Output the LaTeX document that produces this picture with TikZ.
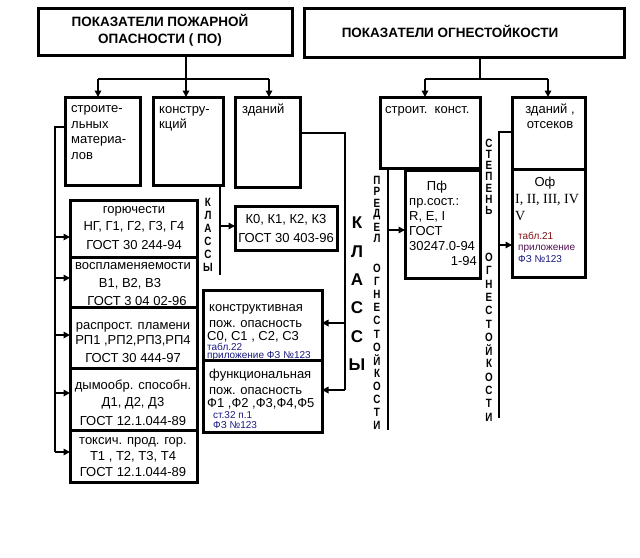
\documentclass[tikz,border=0pt]{standalone}
\usepackage{fontspec}
\setmainfont{Liberation Sans}
\newfontfamily\tnr{Liberation Serif}
\newfontfamily\narrowb[FakeStretch=0.82]{Liberation Sans}
\usetikzlibrary{arrows.meta}
\definecolor{navyc}{HTML}{1A1A80}
\definecolor{redc}{HTML}{801010}
\definecolor{purc}{HTML}{501050}
\begin{document}
\begin{tikzpicture}[x=1pt,y=-1pt,
 box/.style={draw, line width=3pt, inner sep=0pt, outer sep=0pt, anchor=north west},
 conn/.style={line width=1.6pt},
 arr/.style={conn,-{Triangle[length=6.5pt,width=6.5pt]}},
 t/.style={inner sep=0pt, anchor=base, font=\fontsize{13}{14}\selectfont},
 tl/.style={t, anchor=base west},
 tr/.style={t, anchor=base east},
 note/.style={inner sep=0pt, anchor=base west, font=\fontsize{10}{11}\selectfont, text=navyc},
 ttl/.style={inner sep=0pt, anchor=base, font=\bfseries\fontsize{13.5}{15}\selectfont},
 vl/.style={inner sep=0pt, font=\narrowb\bfseries\fontsize{12}{13}\selectfont},
 vb/.style={inner sep=0pt, font=\bfseries\fontsize{17}{18}\selectfont},
]
\useasboundingbox (0,0) rectangle (640,557);
\fill[white] (0,0) rectangle (640,557);

% boxes
\node[box, minimum width=254pt, minimum height=47pt] (po) at (38,8) {};
\node[box, minimum width=320pt, minimum height=49pt] (og) at (304,8) {};
\node[box, minimum width=75pt, minimum height=88pt] (smat) at (65,97) {};
\node[box, minimum width=70pt, minimum height=88pt] (kons) at (153,97) {};
\node[box, minimum width=65pt, minimum height=90pt] (zd) at (235,97) {};
\node[box, minimum width=127pt, minimum height=57pt] (gor) at (70,200) {};
\node[box, minimum width=127pt, minimum height=50pt] (vos) at (70,257) {};
\node[box, minimum width=127pt, minimum height=61pt] (ras) at (70,307) {};
\node[box, minimum width=127pt, minimum height=62pt] (dym) at (70,368) {};
\node[box, minimum width=127pt, minimum height=52pt] (tox) at (70,430) {};
\node[box, minimum width=102pt, minimum height=44pt] (k0) at (235,206) {};
\node[box, minimum width=119pt, minimum height=70pt] (ksp) at (203,290) {};
\node[box, minimum width=119pt, minimum height=72pt] (fpo) at (203,360) {};
\node[box, minimum width=100pt, minimum height=71pt] (sk) at (380,97) {};
\node[box, minimum width=75pt, minimum height=108pt] (pf) at (405,170) {};
\node[box, minimum width=73pt, minimum height=72pt] (zo) at (512,97) {};
\node[box, minimum width=73pt, minimum height=108pt] (of) at (512,169) {};

% texts
\node[ttl] (po1) at (160,26) {ПОКАЗАТЕЛИ ПОЖАРНОЙ};
\node[ttl] (po2) at (160,43) {ОПАСНОСТИ ( ПО)};
\node[ttl] (og1) at (450,37) {ПОКАЗАТЕЛИ ОГНЕСТОЙКОСТИ};

\node[tl] (sm1) at (71,112) {строите-};
\node[tl] (sm2) at (71,128) {льных};
\node[tl] (sm3) at (71,143) {материа-};
\node[tl] (sm4) at (71,159) {лов};
\node[tl] (ko1) at (159,113) {констру-};
\node[tl] (ko2) at (159,128) {кций};
\node[tl] (zd1) at (242,113) {зданий};

\node[t] (g1) at (134,213) {горючести};
\node[t] (g2) at (134,230) {НГ, Г1, Г2, Г3, Г4};
\node[t] (g3) at (134,249) {ГОСТ 30 244-94};
\node[t] (v1) at (133,269) {воспламеняемости};
\node[t] (v2) at (130,287) {В1, В2, В3};
\node[t] (v3) at (137,305) {ГОСТ 3 04 02-96};
\node[t] (r1) at (133,329) {распрост. пламени};
\node[t] (r2) at (133,344) {РП1 ,РП2,РП3,РП4};
\node[t] (r3) at (133,362) {ГОСТ 30 444-97};
\node[t] (d1) at (133,389) {дымообр. способн.};
\node[t] (d2) at (133,406) {Д1, Д2, Д3};
\node[t] (d3) at (133,425) {ГОСТ 12.1.044-89};
\node[t] (x1) at (133,444) {токсич. прод. гор.};
\node[t] (x2) at (133,460) {Т1 , Т2, Т3, Т4};
\node[t] (x3) at (133,476) {ГОСТ 12.1.044-89};

\node[t] (k01) at (286,223) {К0, К1, К2, К3};
\node[t] (k02) at (286,242) {ГОСТ 30 403-96};

\node[tl] (c1) at (209,311) {конструктивная};
\node[tl] (c2) at (209,327) {пож. опасность};
\node[tl] (c3) at (207,340) {С0, С1 , С2, С3};
\node[note] (c4) at (207,350) {табл.22};
\node[note] (c5) at (207,358.5) {приложение ФЗ №123};
\node[tl] (f1) at (209,378) {функциональная};
\node[tl] (f2) at (209,394) {пож. опасность};
\node[tl] (f3) at (207,407) {Ф1 ,Ф2 ,Ф3,Ф4,Ф5};
\node[note] (f4) at (213,418) {ст.32 п.1};
\node[note] (f5) at (213,428) {ФЗ №123};

\node[tl] (sk1) at (385,113) {строит.\ \ конст.};
\node[t] (zo1) at (550,113) {зданий ,};
\node[t] (zo2) at (550,128) {отсеков};
\node[t] (p1) at (437,190) {Пф};
\node[tl] (p2) at (409,205) {пр.сост.:};
\node[tl] (p3) at (409,220) {R, E, I};
\node[tl] (p4) at (409,235) {ГОСТ};
\node[tl] (p5) at (409,250) {30247.0-94};
\node[tr] (p6) at (477,265) {1-94};
\node[t] (o1) at (545,186) {Оф};
\node[tl, font=\tnr\fontsize{14}{15}\selectfont] (o2) at (515,203) {I, II, III, IV};
\node[tl, font=\tnr\fontsize{14}{15}\selectfont] (o3) at (515,220) {V};
\node[note, text=redc] (o4) at (518,239) {табл.21};
\node[note, text=purc] (o5) at (518,250) {приложение};
\node[note] (o6) at (518,262) {ФЗ №123};

% vertical letters
\foreach \l/\yy [count=\i] in {К/202,Л/215,А/228,С/241,С/254,Ы/267}
  \node[vl] (ks\i) at (208,\yy) {\l};
\foreach \l/\yy [count=\i] in {К/223,Л/252,А/280,С/308,С/337,Ы/365}
  \node[vb] (kb\i) at (357,\yy) {\l};
\foreach \l/\yy [count=\i] in {П/180,Р/191.5,Е/203,Д/215,Е/227,Л/238.5,О/268,Г/281,Н/294,Е/307,С/320,Т/334,О/347,Й/360,К/373,О/386,С/399,Т/412,И/425}
  \node[vl] (pr\i) at (377,\yy) {\l};
\foreach \l/\yy [count=\i] in {С/143,Т/154,Е/165,П/176,Е/188,Н/199,Ь/210,О/257,Г/270,Н/284,Е/297,С/310,Т/324,О/337,Й/350,К/363,О/377,С/390,Т/403,И/417}
  \node[vl] (st\i) at (489,\yy) {\l};

% connectors: top left
\coordinate (lj) at (186,79);
\coordinate (lbl) at (98,79);
\coordinate (lbr) at (269,79);
\draw[conn] (po.south -| lj) -- (lj);
\draw[conn] (lbl) -- (lbr);
\draw[arr] (lbl) -- (lbl |- smat.north);
\draw[arr] (lj) -- (lj |- kons.north);
\draw[arr] (lbr) -- (lbr |- zd.north);

% top right
\coordinate (rj) at (480,79);
\coordinate (rbl) at (425,79);
\coordinate (rbr) at (548,79);
\draw[conn] (og.south -| rj) -- (rj);
\draw[conn] (rbl) -- (rbr);
\draw[arr] (rbl) -- (rbl |- sk.north);
\draw[arr] (rbr) -- (rbr |- zo.north);

% left bus (materials)
\coordinate (lb1) at (55,127);
\coordinate (lb2) at (55,452);
\draw[conn] (smat.west |- lb1) -- (lb1) -- (lb2);
\foreach \n/\yy in {gor/237,vos/278,ras/335,dym/393,tox/452}
  \draw[arr] (55,\yy) -- (\n.west |- 0,\yy);

% constructions -> K0
\coordinate (kt) at (220,185);
\coordinate (kb) at (220,275);
\draw[conn] (kt) -- (kb);
\draw[arr] (220,226) -- (k0.west |- 0,226);

% buildings -> classes
\coordinate (zr) at (345,133);
\coordinate (zb) at (345,390);
\draw[conn] (zd.east |- zr) -- (zr) -- (zb);
\draw[arr] (345,323) -- (ksp.east |- 0,323);
\draw[arr] (zb) -- (fpo.east |- zb);

% строит. конст. -> Пф
\coordinate (pt) at (388,168);
\coordinate (pb) at (388,430);
\draw[conn] (pt) -- (pb);
\draw[arr] (388,230) -- (pf.west |- 0,230);

% зданий, отсеков -> Оф
\coordinate (sr) at (499,132);
\coordinate (sb) at (499,418);
\draw[conn] (zo.west |- sr) -- (sr) -- (sb);
\draw[arr] (499,245) -- (of.west |- 0,245);
\end{tikzpicture}
\end{document}
